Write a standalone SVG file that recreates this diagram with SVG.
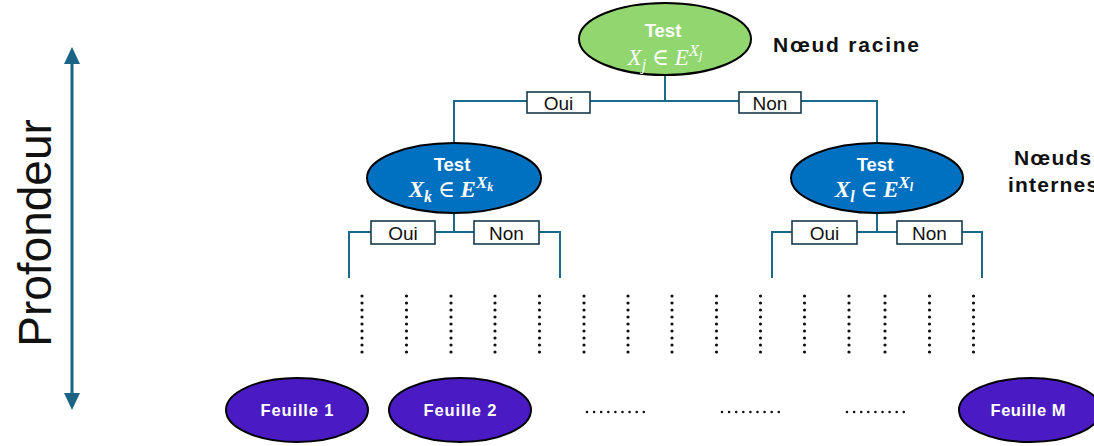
<svg xmlns="http://www.w3.org/2000/svg" width="1094" height="446" viewBox="0 0 1094 446">
  <style>
    .wire { fill: none; stroke: #1b6a8a; stroke-width: 2; }
    .box { fill: #ffffff; stroke: #17394a; stroke-width: 1.6; }
    .boxlbl { font-family: "Liberation Sans", Arial, sans-serif; font-size: 19px; fill: #111; text-anchor: middle; }
    .node { stroke: #000; stroke-width: 2; }
    .root { fill: #92d670; }
    .inner { fill: #0070c0; }
    .leaf { fill: #4a1bc2; }
    .title { font-family: "Liberation Sans", Arial, sans-serif; font-weight: bold; font-size: 18.5px; fill: #fff; text-anchor: middle; }
    .math { font-family: "Liberation Serif", "DejaVu Serif", serif; font-style: italic; font-size: 23px; fill: #fff; text-anchor: middle; }
    .math .op { font-style: normal; }
    .leaflbl { font-family: "Liberation Sans", Arial, sans-serif; font-weight: bold; font-size: 16.5px; fill: #fff; text-anchor: middle; }
    .side { font-family: "Liberation Sans", Arial, sans-serif; font-weight: bold; font-size: 21px; fill: #111; }
    .vdots { stroke: #111; stroke-width: 3.2; stroke-linecap: round; stroke-dasharray: 0 7; }
    .hdots { stroke: #111; stroke-width: 2.6; stroke-linecap: round; stroke-dasharray: 0 7.1; }
  </style>

  <!-- depth axis -->
  <g id="depth-axis">
    <line x1="72" y1="60" x2="72" y2="396" stroke="#1a6385" stroke-width="3"/>
    <polygon points="72,47 64,64 80,64" fill="#1a6385"/>
    <polygon points="72,410 64,393 80,393" fill="#1a6385"/>
    <text transform="translate(51,233) rotate(-90)" font-family="Liberation Sans, Arial, sans-serif" font-size="46" fill="#111" text-anchor="middle">Profondeur</text>
  </g>

  <!-- branch connectors and their labels -->
  <g id="connectors">
    <path class="wire" d="M665,75 V101 M454,143 V101 H877 V143"/>
    <path class="wire" d="M454,213 V232 M349,278 V232 H560 V278"/>
    <path class="wire" d="M877,213 V232 M772,278 V232 H982 V278"/>

    <rect class="box" x="527" y="92" width="63" height="21"/>
    <text class="boxlbl" x="558.5" y="109.5">Oui</text>
    <rect class="box" x="739" y="92" width="62" height="21"/>
    <text class="boxlbl" x="770" y="109.5">Non</text>

    <rect class="box" x="371" y="221" width="64" height="23"/>
    <text class="boxlbl" x="403" y="239.5">Oui</text>
    <rect class="box" x="474" y="221" width="65" height="23"/>
    <text class="boxlbl" x="506.5" y="239.5">Non</text>

    <rect class="box" x="792" y="221" width="65" height="23"/>
    <text class="boxlbl" x="824.5" y="239.5">Oui</text>
    <rect class="box" x="897" y="221" width="65" height="23"/>
    <text class="boxlbl" x="929.5" y="239.5">Non</text>
  </g>

  <!-- root test -->
  <g id="root">
    <ellipse class="node root" cx="665" cy="39" rx="86" ry="36"/>
    <text class="title" x="663" y="37">Test</text>
    <text class="math" x="665" y="65">X<tspan dy="5" font-size="16">j</tspan><tspan dy="-5" class="op"> ∈ </tspan>E<tspan dy="-9" font-size="17">X</tspan><tspan dy="3" font-size="12">j</tspan></text>
  </g>
  <text id="root-caption" class="side" x="773" y="52" textLength="146" lengthAdjust="spacing">Nœud racine</text>

  <!-- internal tests -->
  <g id="internal-left">
    <ellipse class="node inner" cx="454" cy="178" rx="87" ry="35"/>
    <text class="title" x="452" y="171">Test</text>
    <text class="math" x="451" y="197" font-weight="bold">X<tspan dy="5" font-size="16">k</tspan><tspan dy="-5" class="op" font-weight="normal"> ∈ </tspan>E<tspan dy="-9" font-size="17">X</tspan><tspan dy="3" font-size="12">k</tspan></text>
  </g>
  <g id="internal-right">
    <ellipse class="node inner" cx="877" cy="178" rx="86" ry="35"/>
    <text class="title" x="875" y="171">Test</text>
    <text class="math" x="874" y="197" font-weight="bold">X<tspan dy="5" font-size="16">l</tspan><tspan dy="-5" class="op" font-weight="normal"> ∈ </tspan>E<tspan dy="-9" font-size="17">X</tspan><tspan dy="3" font-size="12">l</tspan></text>
  </g>
  <text id="internal-caption" class="side" letter-spacing="1.2"><tspan x="1014" y="165">Nœuds</tspan><tspan x="1008" y="192">internes</tspan></text>

  <!-- elided intermediate levels -->
  <g id="elided-levels">
    <line class="vdots" x1="362" y1="296" x2="362" y2="352.5"/>
    <line class="vdots" x1="406.5" y1="296" x2="406.5" y2="352.5"/>
    <line class="vdots" x1="451" y1="296" x2="451" y2="352.5"/>
    <line class="vdots" x1="495" y1="296" x2="495" y2="352.5"/>
    <line class="vdots" x1="539.5" y1="296" x2="539.5" y2="352.5"/>
    <line class="vdots" x1="584" y1="296" x2="584" y2="352.5"/>
    <line class="vdots" x1="628" y1="296" x2="628" y2="352.5"/>
    <line class="vdots" x1="672" y1="296" x2="672" y2="352.5"/>
    <line class="vdots" x1="716.5" y1="296" x2="716.5" y2="352.5"/>
    <line class="vdots" x1="760.5" y1="296" x2="760.5" y2="352.5"/>
    <line class="vdots" x1="804.5" y1="296" x2="804.5" y2="352.5"/>
    <line class="vdots" x1="849" y1="296" x2="849" y2="352.5"/>
    <line class="vdots" x1="885" y1="296" x2="885" y2="352.5"/>
    <line class="vdots" x1="929.5" y1="296" x2="929.5" y2="352.5"/>
    <line class="vdots" x1="973.5" y1="296" x2="973.5" y2="352.5"/>
  </g>

  <!-- leaves -->
  <g id="leaf-1">
    <ellipse class="node leaf" cx="297" cy="410" rx="71" ry="32"/>
    <text class="leaflbl" x="297" y="416" textLength="73" lengthAdjust="spacing">Feuille 1</text>
  </g>
  <g id="leaf-2">
    <ellipse class="node leaf" cx="460" cy="410" rx="71" ry="32"/>
    <text class="leaflbl" x="460" y="416" textLength="73" lengthAdjust="spacing">Feuille 2</text>
  </g>
  <g id="elided-leaves">
    <line class="hdots" x1="587" y1="412" x2="644" y2="412"/>
    <line class="hdots" x1="722" y1="412" x2="779" y2="412"/>
    <line class="hdots" x1="847" y1="412" x2="904" y2="412"/>
  </g>
  <g id="leaf-m">
    <ellipse class="node leaf" cx="1030" cy="410" rx="71" ry="32"/>
    <text class="leaflbl" x="1028" y="416" textLength="75" lengthAdjust="spacing">Feuille M</text>
  </g>
</svg>
